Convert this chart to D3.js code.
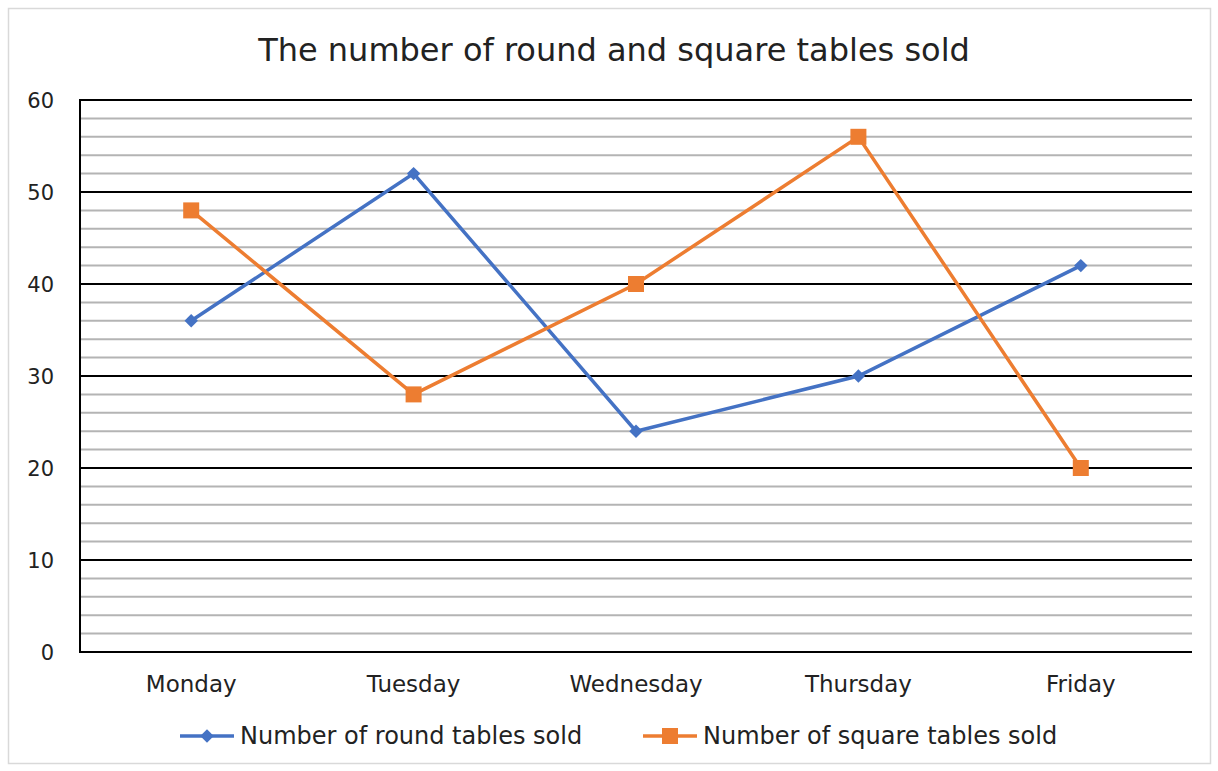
<!DOCTYPE html>
<html>
<head>
<meta charset="utf-8">
<script src="https://cdn.jsdelivr.net/npm/d3@7"></script>
<style>
  body { margin: 0; background: #fff; }
  text { font-family: "DejaVu Sans", Verdana, sans-serif; fill: #222; }
</style>
</head>
<body>
<svg id="chart"></svg>
<script>
const days = ["Monday", "Tuesday", "Wednesday", "Thursday", "Friday"];
const roundTables = [36, 52, 24, 30, 42];
const squareTables = [48, 28, 40, 56, 20];
const yTicks = [0, 10, 20, 30, 40, 50, 60];
const titleText = "The number of round and square tables sold";
const seriesNames = ["Number of round tables sold", "Number of square tables sold"];

const width = 1218, height = 771;
const margin = { top: 100, right: 26, bottom: 119, left: 80 };

const svg = d3.select("#chart").attr("width", width).attr("height", height);

// outer frame
svg.append("rect")
    .attr("x", 8.5).attr("y", 8.5)
    .attr("width", 1202).attr("height", 755)
    .attr("fill", "#fff").attr("stroke", "#d9d9d9").attr("stroke-width", 1.5);

svg.append("text")
    .attr("x", 614).attr("y", 61)
    .attr("text-anchor", "middle")
    .attr("font-size", 32)
    .text(titleText);

let x = d3.scaleBand()
    .domain(days)
    .range([margin.left, width - margin.right]);

let y = d3.scaleLinear()
    .domain([0, 60])
    .range([height - margin.bottom, margin.top]);

// minor gridlines every 2
let minor = d3.range(2, 60, 2).filter(v => v % 10 !== 0);
svg.append("g")
    .selectAll("line")
    .data(minor)
    .join("line")
    .attr("x1", margin.left).attr("x2", width - margin.right)
    .attr("y1", d => y(d)).attr("y2", d => y(d))
    .attr("stroke", "#b4b4b4").attr("stroke-width", 2);

// major gridlines
svg.append("g")
    .selectAll("line")
    .data(yTicks)
    .join("line")
    .attr("x1", margin.left).attr("x2", width - margin.right)
    .attr("y1", d => y(d)).attr("y2", d => y(d))
    .attr("stroke", "#000").attr("stroke-width", 2);

// y axis line
svg.append("line")
    .attr("x1", margin.left).attr("x2", margin.left)
    .attr("y1", y(0) + 1).attr("y2", y(60) - 1)
    .attr("stroke", "#000").attr("stroke-width", 2);

let yAxis = g => g
    .attr("transform", `translate(${margin.left - 26},0)`)
    .call(d3.axisLeft(y).tickValues(yTicks).tickSize(0).tickPadding(0))
    .call(g => g.select(".domain").remove())
    .call(g => g.selectAll("text")
        .attr("font-size", 21)
        .attr("font-family", "DejaVu Sans, Verdana, sans-serif")
        .attr("fill", "#222")
        .attr("dy", "0.35em"));

let xAxis = g => g
    .attr("transform", `translate(0,${y(0) + 40})`)
    .call(d3.axisBottom(x).tickSize(0).tickPadding(0))
    .call(g => g.select(".domain").remove())
    .call(g => g.selectAll("text")
        .attr("font-size", 23)
        .attr("font-family", "DejaVu Sans, Verdana, sans-serif")
        .attr("fill", "#222")
        .attr("dy", "0"));

svg.append("g").call(yAxis);
svg.append("g").call(xAxis);

let cx = d => x(d) + x.bandwidth() / 2;

let line = d3.line()
    .x((d, i) => cx(days[i]))
    .y(d => y(d));

// round tables
svg.append("path")
    .datum(roundTables)
    .attr("d", line)
    .attr("fill", "none")
    .attr("stroke", "#4472C4")
    .attr("stroke-width", 3.5);

let diamond = d3.symbol().type(d3.symbolDiamond2).size(115);
svg.append("g")
    .selectAll("path")
    .data(roundTables)
    .join("path")
    .attr("d", diamond)
    .attr("transform", (d, i) => `translate(${cx(days[i])},${y(d)})`)
    .attr("fill", "#4472C4");

// square tables
svg.append("path")
    .datum(squareTables)
    .attr("d", line)
    .attr("fill", "none")
    .attr("stroke", "#ED7D31")
    .attr("stroke-width", 3.5);

svg.append("g")
    .selectAll("rect")
    .data(squareTables)
    .join("rect")
    .attr("x", (d, i) => cx(days[i]) - 8)
    .attr("y", d => y(d) - 8)
    .attr("width", 16).attr("height", 16)
    .attr("fill", "#ED7D31");

// legend
let legend = svg.append("g");
let legendX = [180, 643];
legendX.forEach((lx, i) => {
    let col = i === 0 ? "#4472C4" : "#ED7D31";
    legend.append("line")
        .attr("x1", lx).attr("x2", lx + 54)
        .attr("y1", 736).attr("y2", 736)
        .attr("stroke", col).attr("stroke-width", 3.5);
    if (i === 0) {
        legend.append("path")
            .attr("d", diamond)
            .attr("transform", `translate(${lx + 27},736)`)
            .attr("fill", col);
    } else {
        legend.append("rect")
            .attr("x", lx + 27 - 8).attr("y", 736 - 8)
            .attr("width", 16).attr("height", 16)
            .attr("fill", col);
    }
    legend.append("text")
        .attr("x", lx + 60).attr("y", 736)
        .attr("dy", "0.35em")
        .attr("font-size", 24)
        .text(seriesNames[i]);
});
</script>
</body>
</html>
